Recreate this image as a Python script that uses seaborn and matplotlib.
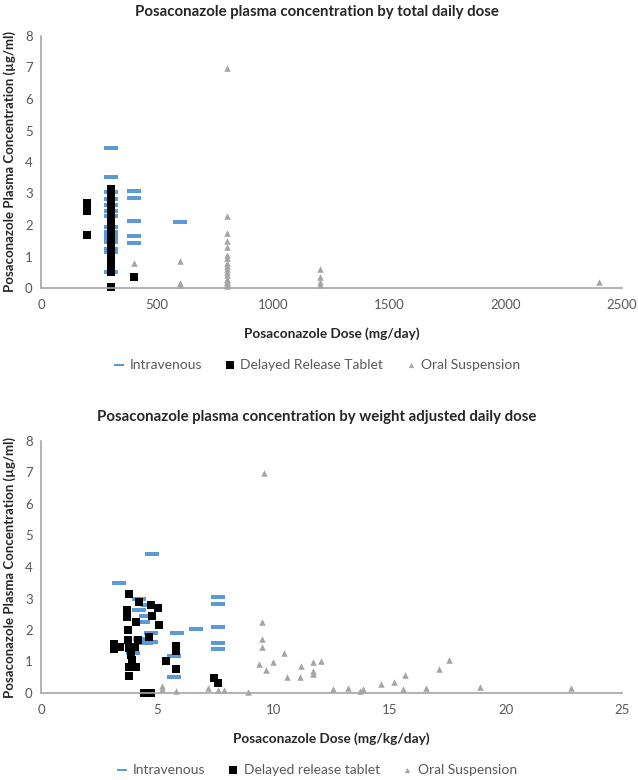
import numpy as np
import pandas as pd
import seaborn as sns
import matplotlib.pyplot as plt

# total daily dose (mg/day) vs plasma concentration (ug/ml)
iv_dose_total = [300, 300, 300, 300, 300, 300, 300, 300, 300, 300, 300, 300, 300, 300, 300,
                 400, 400, 400, 400, 400, 600]
iv_conc_total = [4.44, 3.53, 3.04, 2.83, 2.63, 2.45, 2.30, 1.95, 1.77, 1.66, 1.56, 1.45, 1.24, 1.13, 0.52,
                 3.09, 2.85, 2.14, 1.64, 1.43, 2.08]

tab_dose_total = [200, 200, 200,
                  300, 300, 300, 300, 300, 300, 300, 300, 300, 300, 300, 300, 300, 300,
                  300, 300, 300, 300, 300, 300, 300, 300, 300, 300, 300, 300, 300, 300,
                  400]
tab_conc_total = [2.70, 2.46, 1.69,
                  3.13, 2.90, 2.78, 2.71, 2.64, 2.45, 2.42, 2.26, 2.16, 2.00, 1.77, 1.68, 1.60, 1.55,
                  1.50, 1.47, 1.42, 1.33, 1.21, 1.05, 0.95, 1.00, 0.84, 0.80, 0.72, 0.62, 0.50, 0.02,
                  0.36]

os_dose_total = [400, 600, 600, 600,
                 800, 800, 800, 800, 800, 800, 800, 800, 800, 800, 800, 800, 800, 800, 800, 800, 800, 800,
                 1200, 1200, 1200, 1200, 2400]
os_conc_total = [0.80, 0.85, 0.15, 0.08,
                 7.00, 2.30, 1.75, 1.50, 1.30, 1.05, 0.95, 0.80, 0.70, 0.60, 0.50, 0.40, 0.30, 0.25, 0.20, 0.15, 0.10, 0.05,
                 0.60, 0.35, 0.20, 0.08, 0.20]

# weight adjusted dose (mg/kg/day)
iv_dose_wt = [4.76, 3.35, 4.20, 4.60, 4.20, 4.50, 4.40, 4.73, 5.85, 6.65, 4.25, 4.75, 4.50, 5.73, 5.73, 3.95,
              7.62, 7.62, 7.62, 7.62, 7.62]
iv_conc_wt = [4.40, 3.50, 2.99, 2.80, 2.63, 2.45, 2.26, 1.91, 1.90, 2.02, 1.70, 1.63, 1.58, 1.17, 0.50, 1.26,
              3.06, 2.82, 2.09, 1.58, 1.39]

tab_dose_wt = [3.77, 4.23, 4.73, 5.02, 3.70, 3.70, 4.76, 4.09, 5.06, 3.76, 4.63, 3.13, 3.40, 3.73, 3.80,
               4.06, 4.19, 3.87, 3.92, 3.80, 4.09, 3.77, 5.80, 5.80, 5.40, 5.80, 4.44, 4.73, 7.44, 7.62, 3.13]
tab_conc_wt = [3.13, 2.90, 2.78, 2.71, 2.64, 2.42, 2.45, 2.26, 2.16, 2.00, 1.77, 1.55, 1.47, 1.68, 1.42,
               1.47, 1.68, 1.21, 1.05, 0.84, 0.82, 0.53, 1.50, 1.33, 1.03, 0.75, 0.00, 0.00, 0.47, 0.31, 1.40]

os_dose_wt = [5.19, 5.19, 5.80, 7.19, 7.62, 7.86, 8.90, 9.60, 9.49, 9.49, 9.49, 10.47, 10.00, 9.37, 9.70,
              10.57, 11.20, 11.14, 11.70, 11.70, 11.70, 12.04, 12.58, 13.20, 13.73, 13.85, 14.63, 15.20,
              15.58, 15.68, 16.55, 17.14, 17.55, 18.88, 22.80]
os_conc_wt = [0.22, 0.12, 0.05, 0.17, 0.10, 0.10, 0.04, 6.97, 2.26, 1.71, 1.46, 1.28, 1.00, 0.92, 0.72,
              0.50, 0.86, 0.52, 0.97, 0.71, 0.61, 1.02, 0.12, 0.16, 0.05, 0.12, 0.28, 0.35,
              0.13, 0.58, 0.16, 0.77, 1.04, 0.18, 0.15]

sns.set_style("white")
plt.rcParams['font.family'] = ['Lato', 'DejaVu Sans']

dash = [(-1, -0.21), (1, -0.21), (1, 0.21), (-1, 0.21)]
blue = '#5B9BD5'
grey = '#A5A5A5'
tick_col = '#595959'

fig = plt.figure(figsize=(6.38, 7.8), dpi=100)
ax1 = fig.add_axes([41 / 638, 1 - 288 / 780, 581 / 638, 252 / 780])
ax2 = fig.add_axes([41 / 638, 1 - 693 / 780, 581 / 638, 252 / 780])


def draw_panel(ax, ivx, ivy, tx, ty, ox, oy, xmax, xticks, xlabel, labels):
    sns.scatterplot(x=ivx, y=ivy, ax=ax, marker=dash, s=110, color=blue, linewidth=0, label=labels[0])
    sns.scatterplot(x=tx, y=ty, ax=ax, marker='s', s=36, color='black', linewidth=0, label=labels[1])
    sns.scatterplot(x=ox, y=oy, ax=ax, marker='^', s=22, color=grey, linewidth=0, label=labels[2])
    ax.set_xlim(0, xmax)
    ax.set_ylim(0, 8)
    ax.set_xticks(xticks)
    ax.set_yticks(range(0, 9))
    for sp in ['top', 'right']:
        ax.spines[sp].set_visible(False)
    for sp in ['left', 'bottom']:
        ax.spines[sp].set_color('#A6A6A6')
        ax.spines[sp].set_linewidth(1.2)
    ax.tick_params(length=0, labelsize=9.5, labelcolor=tick_col)
    ax.tick_params(axis='x', pad=8)
    ax.tick_params(axis='y', pad=6)
    ax.set_xlabel(xlabel, fontsize=9.8, fontweight='bold')
    ax.xaxis.set_label_coords(0.5, -0.155)
    ax.set_ylabel('Posaconazole Plasma Concentration (µg/ml)', fontsize=9.5, fontweight='bold')
    ax.yaxis.set_label_coords(-0.043, 0.5)
    for c in ax.collections:
        c.set_clip_on(False)
    leg = ax.legend(ncol=3, loc='center', bbox_to_anchor=(0.475, -0.306), frameon=False,
                    fontsize=10, columnspacing=1.6, handlelength=0.8, handletextpad=0.35,
                    labelcolor=tick_col)
    for h, sz in zip(leg.legend_handles, [50, 26, 14]):
        h.set_sizes([sz])
    return leg


draw_panel(ax1, iv_dose_total, iv_conc_total, tab_dose_total, tab_conc_total, os_dose_total, os_conc_total,
           2500, [0, 500, 1000, 1500, 2000, 2500], 'Posaconazole Dose (mg/day)',
           ['Intravenous', 'Delayed Release Tablet', 'Oral Suspension'])
draw_panel(ax2, iv_dose_wt, iv_conc_wt, tab_dose_wt, tab_conc_wt, os_dose_wt, os_conc_wt,
           25, [0, 5, 10, 15, 20, 25], 'Posaconazole Dose (mg/kg/day)',
           ['Intravenous', 'Delayed release tablet', 'Oral Suspension'])

fig.text(0.497, 1 - 12 / 780, 'Posaconazole plasma concentration by total daily dose',
         ha='center', va='center', fontsize=10.8, fontweight='bold')
fig.text(0.497, 1 - 417 / 780, 'Posaconazole plasma concentration by weight adjusted daily dose',
         ha='center', va='center', fontsize=10.8, fontweight='bold')

fig.savefig('out.png', dpi=100)
